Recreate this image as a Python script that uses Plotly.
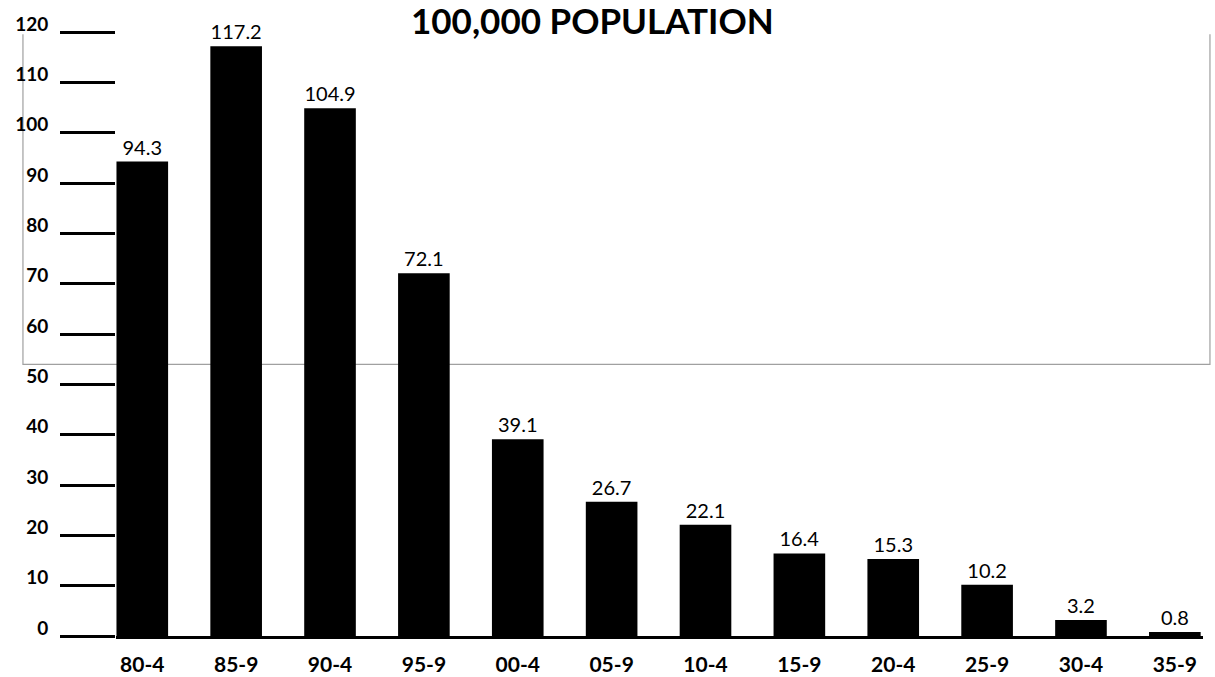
import plotly.graph_objects as go

categories = ["80-4", "85-9", "90-4", "95-9", "00-4", "05-9", "10-4", "15-9", "20-4", "25-9", "30-4", "35-9"]
values = [94.3, 117.2, 104.9, 72.1, 39.1, 26.7, 22.1, 16.4, 15.3, 10.2, 3.2, 0.8]
value_labels = ["94.3", "117.2", "104.9", "72.1", "39.1", "26.7", "22.1", "16.4", "15.3", "10.2", "3.2", "0.8"]
y_ticks = [0, 10, 20, 30, 40, 50, 60, 70, 80, 90, 100, 110, 120]
title_text = "100,000 POPULATION"

FONT = "Lato"

fig = go.Figure()
fig.add_trace(go.Bar(
    x=list(range(len(categories))),
    y=values,
    width=0.55,
    marker=dict(color="black", line=dict(width=0)),
    text=value_labels,
    textposition="outside",
    textfont=dict(family=FONT, size=20, color="black"),
    cliponaxis=False,
    hoverinfo="skip",
))

# scan artifact: thin grey paste-up outline (left, bottom, right sides)
fig.add_shape(type="path", xref="paper", yref="y",
              path="M -0.0856 119.6 L -0.0856 54.0 L 1.0064 54.0 L 1.0064 119.6",
              line=dict(color="#a0a0a0", width=1.2), layer="below")

fig.add_annotation(text=title_text, xref="paper", yref="paper",
                   x=(592 - 116) / 1087, y=(636 - 20) / 634,
                   xanchor="center", yanchor="middle", showarrow=False,
                   font=dict(family=FONT, size=35, color="black", weight="bold"))

fig.update_layout(
    width=1215, height=677,
    margin=dict(l=116, r=12, t=2, b=41, autoexpand=False),
    paper_bgcolor="white", plot_bgcolor="white",
    showlegend=False,
    xaxis=dict(
        range=[-0.28, 11.30], automargin=False,
        tickmode="array", tickvals=list(range(len(categories))), ticktext=categories,
        showgrid=False, zeroline=False,
        showline=True, linecolor="black", linewidth=2.5,
        ticks="", ticklabelstandoff=8,
        tickfont=dict(family=FONT, size=21, color="black", weight="bold"),
    ),
    yaxis=dict(
        range=[0, 126], automargin=False,
        tickmode="array", tickvals=y_ticks, ticktext=[str(v) for v in y_ticks],
        showgrid=False, zeroline=False, showline=False,
        ticks="outside", ticklen=55, tickwidth=2.5, tickcolor="black",
        ticklabelstandoff=8, ticklabelshift=-8,
        tickfont=dict(family=FONT, size=19, color="black", weight="bold"),
    ),
)

fig.write_html("out.html",
               config={"displayModeBar": False},
               post_script="document.body.style.margin='0';document.body.style.overflow='hidden';")
